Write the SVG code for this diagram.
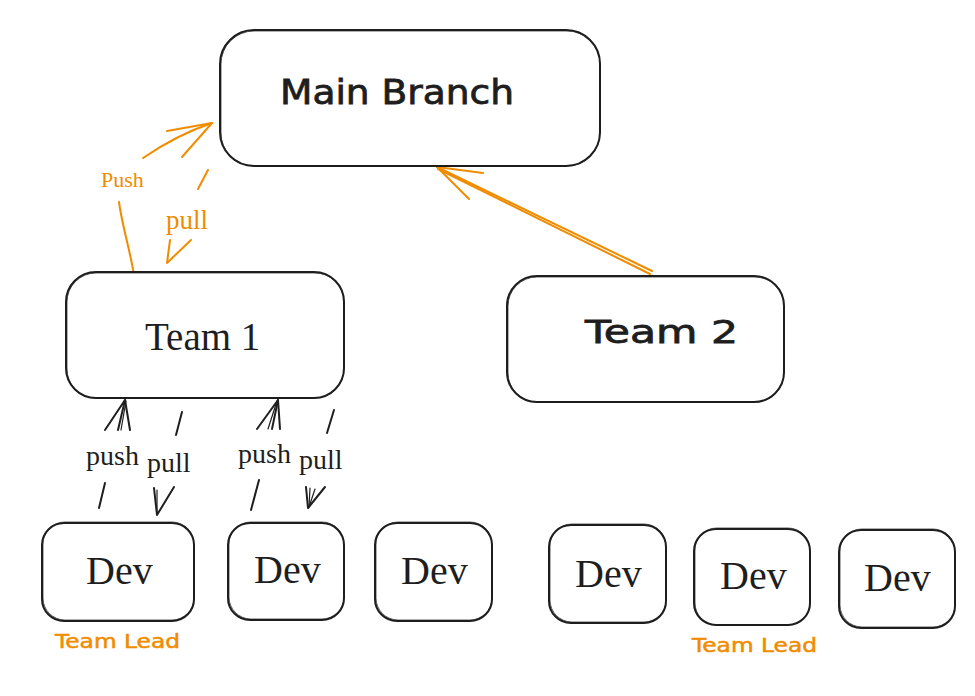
<svg xmlns="http://www.w3.org/2000/svg" width="975" height="696" viewBox="0 0 975 696">
<defs>
<style>
.box{fill:#ffffff;stroke:#1e1e1e;stroke-width:2}
.box2{fill:none;stroke:#1e1e1e;stroke-width:1;opacity:0.7}
.hand{font-family:"DejaVu Sans","Liberation Sans",sans-serif;fill:#1e1e1e;stroke:#1e1e1e;stroke-width:0.8}
.serif{font-family:"Liberation Serif","Times New Roman",serif;fill:#1e1e1e}
.orange{fill:#f08c00}
.handor{stroke:#f08c00;stroke-width:0.5}
.ol{fill:none;stroke:#f08c00;stroke-width:2;stroke-linecap:round;stroke-linejoin:round}
.bl{fill:none;stroke:#1e1e1e;stroke-width:2;stroke-linecap:round;stroke-linejoin:round}
.bl1{fill:none;stroke:#1e1e1e;stroke-width:1.2;stroke-linecap:round}
</style>
</defs>
<rect width="975" height="696" fill="#ffffff"/>

<g id="connectors">
  <!-- Team 1 -> Main Branch (Push) -->
  <path class="ol" d="M134,275 C130,250 122,225 119,202"/>
  <path class="ol" d="M143,158 C165,143 188,131 212,123"/>
  <path class="ol" d="M167,131 L212,123 L182,157"/>
  <!-- Main Branch -> Team 1 (pull) -->
  <path class="ol" d="M208,170 L198,189" stroke-width="3"/>
  <path class="ol" d="M170,240 L167,263 L191,240"/>
  <!-- Team 2 -> Main Branch -->
  <path class="ol" d="M652,271 L437,167" stroke-width="1.5"/>
  <path class="ol" d="M650,274 L438,169" stroke-width="1"/>
  <path class="ol" d="M483,173 L437,167 L469,199"/>
  <!-- push 1 -->
  <path class="bl" d="M99,508 L105,483"/>
  <path class="bl" d="M118,430 L125,400"/>
  <path class="bl1" d="M121,430 L126,401"/>
  <path class="bl" d="M105,430 L125,400 L130,430"/>
  <!-- pull 1 -->
  <path class="bl" d="M182,412 L176,435"/>
  <path class="bl" d="M154,488 L157,515 L174,487"/>
  <path class="bl1" d="M157,490 L157,514"/>
  <!-- push 2 -->
  <path class="bl" d="M251,510 L259,480"/>
  <path class="bl" d="M272,429 L278,400"/>
  <path class="bl1" d="M268,429 L277,401"/>
  <path class="bl" d="M257,429 L278,400 L280,429"/>
  <!-- pull 2 -->
  <path class="bl" d="M334,410 L327,433"/>
  <path class="bl" d="M306,487 L308,508 L325,487"/>
  <path class="bl1" d="M310,488 L309,507"/>
  <path class="bl1" d="M315,489 L309,507"/>
</g>

<g id="label-push-orange"><text class="serif orange" x="101" y="187" font-size="22">Push</text></g>
<g id="label-pull-orange"><text class="serif orange" x="166" y="229" font-size="27">pull</text></g>
<g id="label-push1"><text class="serif" x="86" y="465" font-size="28">push</text></g>
<g id="label-pull1"><text class="serif" x="147" y="472" font-size="28">pull</text></g>
<g id="label-push2"><text class="serif" x="238" y="463" font-size="28">push</text></g>
<g id="label-pull2"><text class="serif" x="299" y="469" font-size="28">pull</text></g>

<g id="main-branch">
  <rect class="box" x="220" y="30" width="380" height="136" rx="34"/>
  <rect class="box2" x="221" y="31" width="379" height="135" rx="33"/>
  <text class="hand" x="280" y="104" font-size="34" textLength="234" lengthAdjust="spacingAndGlyphs">Main Branch</text>
</g>

<g id="team1">
  <rect class="box" x="66" y="272" width="278" height="126" rx="30"/>
  <rect class="box2" x="67" y="273" width="277" height="125" rx="29"/>
  <text class="serif" x="145" y="350" font-size="39">Team 1</text>
</g>

<g id="team2">
  <rect class="box" x="507" y="276" width="277" height="126" rx="30"/>
  <rect class="box2" x="508" y="277" width="276" height="125" rx="29"/>
  <text class="hand" x="585" y="343" font-size="32" textLength="153" lengthAdjust="spacingAndGlyphs">Team 2</text>
</g>

<g id="dev1">
  <rect class="box" x="42" y="523" width="152" height="98" rx="22"/>
  <rect class="box2" x="43" y="522" width="151" height="98" rx="22"/>
  <text class="serif" x="86" y="584" font-size="40">Dev</text>
</g>
<g id="dev2">
  <rect class="box" x="228" y="523" width="116" height="97" rx="22"/>
  <rect class="box2" x="229" y="522" width="115" height="97" rx="22"/>
  <text class="serif" x="254" y="583" font-size="40">Dev</text>
</g>
<g id="dev3">
  <rect class="box" x="375" y="523" width="117" height="98" rx="22"/>
  <rect class="box2" x="376" y="522" width="116" height="98" rx="22"/>
  <text class="serif" x="401" y="584" font-size="40">Dev</text>
</g>
<g id="dev4">
  <rect class="box" x="549" y="525" width="117" height="98" rx="22"/>
  <rect class="box2" x="550" y="524" width="116" height="98" rx="22"/>
  <text class="serif" x="575" y="587" font-size="40">Dev</text>
</g>
<g id="dev5">
  <rect class="box" x="694" y="529" width="116" height="96" rx="22"/>
  <rect class="box2" x="695" y="528" width="115" height="97" rx="22"/>
  <text class="serif" x="720" y="589" font-size="40">Dev</text>
</g>
<g id="dev6">
  <rect class="box" x="839" y="530" width="116" height="98" rx="22"/>
  <rect class="box2" x="840" y="529" width="115" height="98" rx="22"/>
  <text class="serif" x="864" y="591" font-size="40">Dev</text>
</g>

<g id="team-lead-1"><text class="hand orange handor" x="55" y="648" font-size="19" textLength="125" lengthAdjust="spacingAndGlyphs">Team Lead</text></g>
<g id="team-lead-2"><text class="hand orange handor" x="692" y="652" font-size="19" textLength="125" lengthAdjust="spacingAndGlyphs">Team Lead</text></g>
</svg>
